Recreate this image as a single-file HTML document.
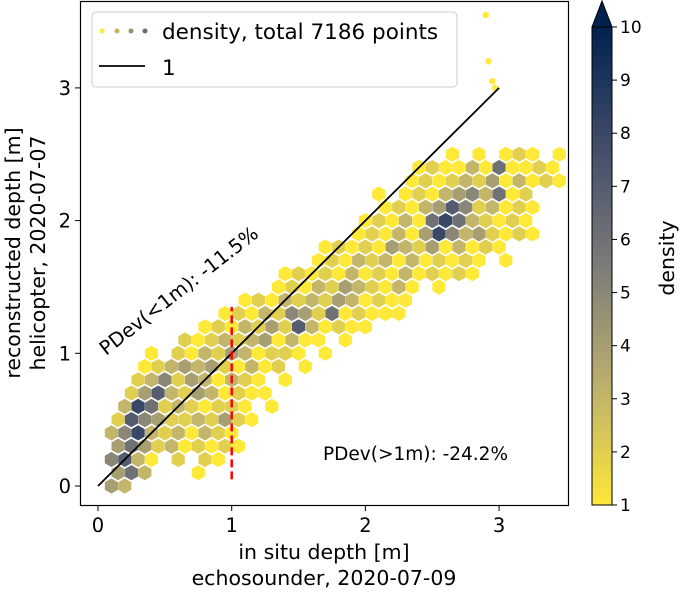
<!DOCTYPE html>
<html><head><meta charset="utf-8"><style>
body{margin:0;background:#fff;}
svg text{font-family:"DejaVu Sans","Liberation Sans",sans-serif;}
</style></head><body>
<svg id="chart" width="680" height="591" xmlns="http://www.w3.org/2000/svg">
<g id="hexes"></g>
<g id="overlay"></g>
</svg>
<script>
// ---- data ----
const rowY = [0.0,0.1,0.2,0.3,0.4,0.5,0.6,0.7,0.8,0.9,1.0,1.1,1.2,1.3,1.4,1.5,1.6,1.7,1.8,1.9,2.0,2.1,2.2,2.3,2.4,2.5];
const rowStart = [0.1,0.1,0.1,0.1,0.1,0.1,0.2,0.2,0.3,0.3,0.4,0.6,0.8,0.9,1.1,1.3,1.4,1.6,1.7,1.9,2.0,2.1,2.1,2.3,2.4,2.6];
const rowDensity = [
"43",
"463   1",
"5731 2 21",
"4642312121",
"3583231321",
"27542232421",
"3862321221 1",
"24732431211",
"2352431321 1",
"12343421312 1",
"1 2132431221 1",
"21232341311 1",
"1213242731211",
"12132542612111",
"1213232431211",
"12132432131 1",
"121213121312121",
"1213231312121 1",
"12121432413121",
"12131485342121",
"1213168632121",
"121347523121",
"1 1213453612",
"121232413121",
"12113161121",
"1 1 121 1"];
const outX = [2.9,2.92,2.95,2.97];
const outY = [3.55,3.2,3.05,3.0];
const xTicks = [0,1,2,3];
const yTicks = [0,1,2,3];
const cbTicks = [1,2,3,4,5,6,7,8,9,10];

// ---- scales ----
const X0=98, XS=133.7, Y0=486, YS=132.7;
const sx=v=>X0+v*XS, sy=v=>Y0-v*YS;
const CB_TOP=27, CB_BOT=505;
const cy=v=>CB_BOT-(v-1)/9*(CB_BOT-CB_TOP);
const stops=[[0,[254,232,56]],[0.25,[188,175,111]],[0.5,[124,123,120]],[0.75,[65,77,107]],[1,[0,34,78]]];
function col(d){let t=Math.max(0,Math.min(1,(d-1)/9));for(let i=1;i<stops.length;i++){if(t<=stops[i][0]){const a=stops[i-1],b=stops[i],f=(t-a[0])/(b[0]-a[0]);return 'rgb('+a[1].map((c,k)=>Math.round(c+(b[1][k]-c)*f)).join(',')+')';}}return 'rgb(0,34,78)';}
const NS='http://www.w3.org/2000/svg';
function mk(tag,attrs,parent){const e=document.createElementNS(NS,tag);for(const k in attrs)e.setAttribute(k,attrs[k]);parent.appendChild(e);return e;}
function hex(cx,cyy,r){let p=[];for(let i=0;i<6;i++){const a=Math.PI/180*(60*i+30);p.push((cx+r*Math.cos(a)).toFixed(1)+','+(cyy+r*Math.sin(a)).toFixed(1));}return p.join(' ');}
const hg=document.getElementById('hexes');
rowY.forEach((y,ri)=>{
  const s=rowDensity[ri];
  for(let i=0;i<s.length;i++){
    if(s[i]===' ')continue;
    const d=+s[i];
    const x=rowStart[ri]+i*0.1+(ri%2?0.05:0);
    const h=mk('polygon',{points:hex(sx(x),sy(y),7.6),fill:col(d)},hg);
    
    
  }
});
outX.forEach((x,i)=>{
  const h=mk('polygon',{points:hex(sx(x),sy(outY[i]),3.5),fill:col(1)},hg);
  
  
});
const g=document.getElementById('overlay');
let l=mk('line',{x1:sx(0),y1:sy(0),x2:sx(3),y2:sy(3),stroke:'#000','stroke-width':1.8},g);


l=mk('line',{x1:sx(1),y1:sy(0.05),x2:sx(1),y2:sy(1.35),stroke:'#f00','stroke-width':2.5,'stroke-dasharray':'8,4'},g);


l=mk('rect',{x:80.5,y:1.5,width:488,height:504,fill:'none',stroke:'#000','stroke-width':1.2},g);


xTicks.forEach(v=>{
  mk('line',{x1:sx(v),y1:506,x2:sx(v),y2:511,stroke:'#000'},g);
  const t=mk('text',{x:sx(v),y:532,'font-size':19.5,'text-anchor':'middle'},g);t.textContent=v;
  
  
});
yTicks.forEach(v=>{
  mk('line',{x1:75,y1:sy(v),x2:80,y2:sy(v),stroke:'#000'},g);
  const t=mk('text',{x:71,y:sy(v)+7,'font-size':19.5,'text-anchor':'end'},g);t.textContent=v;
  
  
});
const defs=mk('defs',{},g);
const lg=mk('linearGradient',{id:'cb',x1:0,y1:1,x2:0,y2:0},defs);
for(let i=0;i<=10;i++)mk('stop',{offset:i/10,'stop-color':col(1+i*0.9)},lg);
let cb=mk('rect',{x:592,y:CB_TOP,width:20,height:CB_BOT-CB_TOP,fill:'url(#cb)',stroke:'#000','stroke-width':1},g);


cb=mk('polygon',{points:'592,27 612,27 602,1',fill:col(10),stroke:'#000','stroke-width':1},g);


cbTicks.forEach(v=>{
  mk('line',{x1:612,y1:cy(v),x2:617,y2:cy(v),stroke:'#000'},g);
  const t=mk('text',{x:620,y:cy(v)+6,'font-size':17},g);t.textContent=v;
  
  
});
</script>
<svg style="position:absolute;left:0;top:0" width="680" height="591" xmlns="http://www.w3.org/2000/svg">
<g>
<rect x="92" y="12" width="365" height="75" rx="4" fill="#fff" fill-opacity="0.85" stroke="#ccc"/>
<circle cx="102" cy="31" r="2.5" fill="#fee838"/><circle cx="117" cy="31" r="2.5" fill="#c9b45a"/><circle cx="131" cy="31" r="2.5" fill="#9a8f70"/><circle cx="145" cy="31" r="2.5" fill="#676b74"/>
<text x="162" y="39" font-size="21.5">density, total 7186 points</text>
<line x1="99" y1="66" x2="145" y2="66" stroke="#000" stroke-width="1.8"/>
<text x="162" y="75" font-size="21.5">1</text>
</g>
<text x="0" y="0" font-size="19.5" transform="translate(106,356) rotate(-38)">PDev(&lt;1m): -11.5%</text>
<text x="323" y="460" font-size="18.5">PDev(&gt;1m): -24.2%</text>
<text x="324" y="559" font-size="20.5" text-anchor="middle">in situ depth [m]</text>
<text x="324" y="585" font-size="20.5" text-anchor="middle">echosounder, 2020-07-09</text>
<text font-size="20.5" text-anchor="middle" transform="translate(20,253) rotate(-90)">reconstructed depth [m]</text>
<text font-size="20.5" text-anchor="middle" transform="translate(45,253) rotate(-90)">helicopter, 2020-07-07</text>
<text font-size="20.5" text-anchor="middle" transform="translate(674,258) rotate(-90)">density</text>
</svg>
</body></html>
